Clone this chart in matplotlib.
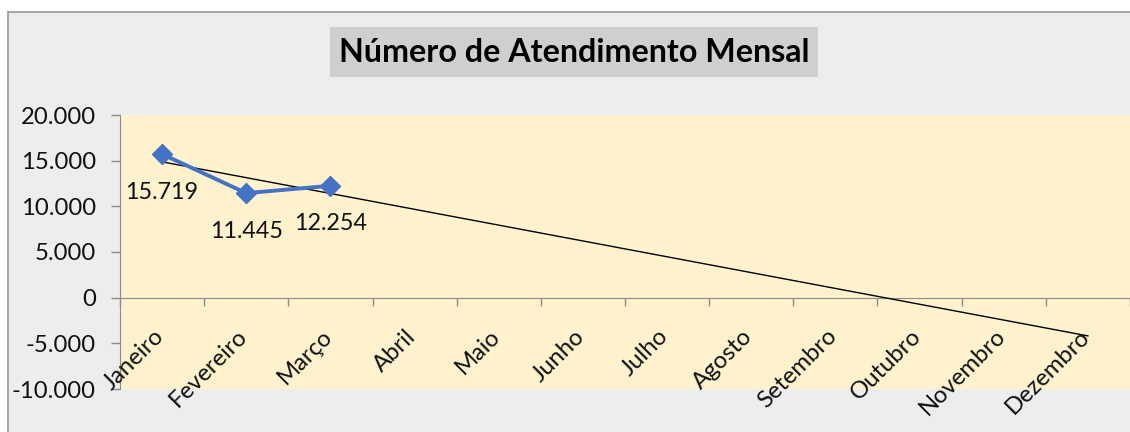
import numpy as np
import matplotlib
matplotlib.use("Agg")
import matplotlib.pyplot as plt
from matplotlib.patches import Rectangle
from matplotlib.lines import Line2D
from matplotlib.ticker import FixedLocator, FuncFormatter

months = ["Janeiro", "Fevereiro", "Março", "Abril", "Maio", "Junho", "Julho",
          "Agosto", "Setembro", "Outubro", "Novembro", "Dezembro"]
atendimentos = [15719, 11445, 12254]
title = "Número de Atendimento Mensal"
y_ticks = [-10000, -5000, 0, 5000, 10000, 15000, 20000]

W, H = 1130, 432
fig = plt.figure(figsize=(W / 100, H / 100), dpi=100)
fig.patch.set_facecolor("#EDEDED")

# white margin outside the chart frame (top and left), plus frame lines
fx, fy = 7.5 / W, (H - 11.5) / H
fig.add_artist(Rectangle((0, fy), 1, 1 - fy, transform=fig.transFigure,
                         facecolor="white", edgecolor="none", zorder=-2))
fig.add_artist(Rectangle((0, 0), fx, 1, transform=fig.transFigure,
                         facecolor="white", edgecolor="none", zorder=-2))
fig.add_artist(Line2D([fx, 1.01], [fy, fy], transform=fig.transFigure,
                      color="#9A9A9A", lw=1.2, zorder=-1))
fig.add_artist(Line2D([fx, fx], [-0.01, fy], transform=fig.transFigure,
                      color="#9A9A9A", lw=1.2, zorder=-1))

left, right = 120, 1130
top, bottom = 115, 389
ax = fig.add_axes([left / W, (H - bottom) / H, (right - left) / W, (bottom - top) / H])
ax.set_facecolor("#FFF2CC")

font = "Lato"
cat_w = 85.3
x = np.arange(1, len(months) + 1)
ax.set_xlim(0.5, 0.5 + (right - left) / cat_w)
ax.set_ylim(-10000, 20000)

# trendline (linear fit like Excel)
xd = np.arange(1, len(atendimentos) + 1)
k, b = np.polyfit(xd, atendimentos, 1)
ax.plot([x[0], x[-1]], [k * x[0] + b, k * x[-1] + b], color="black", lw=1.0, zorder=3)

ax.plot(xd, atendimentos, color="#4472C4", lw=2.8, marker="D", markersize=10,
        zorder=4, solid_joinstyle="round")

for xi, v in zip(xd, atendimentos):
    ax.annotate(f"{v:,}".replace(",", "."), xy=(xi, v), xytext=(0, -27.5),
                textcoords="offset points", ha="center", va="center",
                fontsize=16.8, family=font, color="#111111", zorder=5)

for s in ["top", "right"]:
    ax.spines[s].set_visible(False)
ax.spines["left"].set_color("#8C8C8C")
ax.spines["bottom"].set_color("#8C8C8C")
ax.spines["bottom"].set_position(("data", 0))

ax.yaxis.set_major_locator(FixedLocator(y_ticks))
ax.yaxis.set_major_formatter(FuncFormatter(lambda v, p: f"{int(v):,}".replace(",", ".")))
ax.tick_params(axis="y", direction="out", length=6.5, color="#8C8C8C", width=1,
               labelsize=17.2, labelcolor="#111111", pad=11)
for lab in ax.get_yticklabels():
    lab.set_family(font)

ax.set_xticks(np.arange(0.5, 13.5, 1.0))
ax.set_xticklabels([])
ax.tick_params(axis="x", direction="out", length=6, color="#8C8C8C", width=1)

for xi, m in zip(x, months):
    ax.annotate(m, xy=(xi, 0), xytext=(4, -20), textcoords="offset points",
                ha="right", va="top", rotation=45, fontsize=17.2, family=font,
                color="#111111", annotation_clip=False)

# title with grey box
fig.add_artist(Rectangle((330 / W, (H - 77) / H), (818 - 330) / W, 50 / H,
                         transform=fig.transFigure, facecolor="#D0CECE",
                         edgecolor="none", zorder=-1))
fig.text(574 / W, (H - 53) / H, title, ha="center", va="center",
         fontsize=23.2, fontweight="bold", family=font, color="black")

fig.savefig("out.png", dpi=100, facecolor=fig.get_facecolor())
